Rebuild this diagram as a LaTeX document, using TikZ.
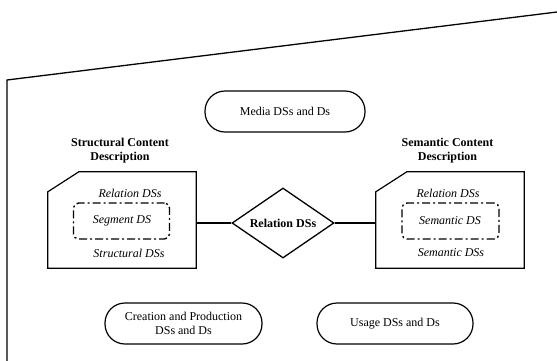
\documentclass[tikz,border=0pt]{standalone}
\usepackage{fontspec}
\setmainfont{Liberation Serif}
\usetikzlibrary{shapes.geometric}
\begin{document}
\begin{tikzpicture}[x=1pt,y=-1pt,
  every node/.style={font=\fontsize{12}{14}\selectfont, inner sep=0pt},
  oval/.style={draw, line width=1.2pt, rounded corners=20pt, minimum height=41pt, align=center},
  frameline/.style={line width=1.3pt},
  hidden/.style={draw=none, minimum width=148pt, minimum height=96pt},
  boxline/.style={line width=1.2pt},
  ddbox/.style={draw, line width=1.4pt, rounded corners=5pt, minimum width=96pt, minimum height=36pt, dash pattern=on 8pt off 3pt on 2pt off 3pt},
  itext/.style={font=\fontsize{12}{14}\selectfont\itshape},
  title/.style={font=\fontsize{12}{13.5}\selectfont\bfseries, align=center},
  link/.style={line width=2pt},
  relshape/.style={draw, diamond, shape aspect=1.457, line width=1.3pt, minimum width=102pt, minimum height=70pt, font=\fontsize{12}{14}\selectfont\bfseries},
]
\useasboundingbox (0,0) rectangle (557,360);

% outer frame
\coordinate (fb) at (7,361);
\coordinate (fc) at (7,80);
\coordinate (fr) at (557,12);
\draw[frameline] (fb) -- (fc) -- (fr);

% ovals
\node[oval, minimum width=160pt] (media) at (285,111.5) {Media DSs and Ds};
\node[oval, minimum width=157pt] (creation) at (183.5,323.5) {Creation and Production\\DSs and Ds};
\node[oval, minimum width=156pt] (usage) at (395,323.5) {Usage DSs and Ds};

% titles
\node[title] (stitle) at (120,150.5) {Structural Content\\Description};
\node[title] (mtitle) at (447.5,150.5) {Semantic Content\\Description};

% left box
\node[hidden] (sbox) at (122,220) {};
\draw[boxline] ([xshift=31pt]sbox.north west) -- (sbox.north east) -- (sbox.south east)
  -- (sbox.south west) -- ([yshift=-20pt]sbox.north west) -- cycle;
\node[itext] (srel) at (130,193) {Relation DSs};
\node[ddbox] (seg) at (121.5,221) {};
\node[itext] (segt) at (122,221) {Segment DS};
\node[itext] (sds) at (129,253) {Structural DSs};

% right box
\node[hidden] (mbox) at (450,220) {};
\draw[boxline] ([xshift=31pt]mbox.north west) -- (mbox.north east) -- (mbox.south east)
  -- (mbox.south west) -- ([yshift=-20pt]mbox.north west) -- cycle;
\node[itext] (mrel) at (448,193) {Relation DSs};
\node[ddbox, minimum width=97pt] (sem) at (450.5,221) {};
\node[itext] (semt) at (450,221) {Semantic DS};
\node[itext] (mds) at (451,253) {Semantic DSs};

% relation diamond
\node[relshape] (rel) at (283,223) {Relation DSs};

% connectors
\draw[link] (rel.west) -- (rel.west -| sbox.east);
\draw[link] (rel.east) -- (rel.east -| mbox.west);
\end{tikzpicture}
\end{document}
